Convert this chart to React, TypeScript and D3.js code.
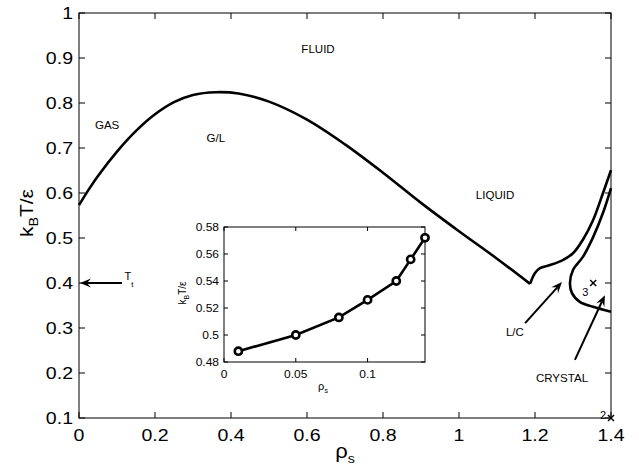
import React from 'react';
import * as d3 from 'd3';

// main phase boundary: gas/liquid coexistence up to the kink
const glRho = [0, 0.025, 0.05, 0.1, 0.15, 0.2, 0.25, 0.3, 0.36, 0.42, 0.5, 0.6, 0.7, 0.8, 0.9, 1.0, 1.1, 1.187];
const glT = [0.573, 0.607, 0.638, 0.692, 0.738, 0.775, 0.802, 0.818, 0.824, 0.821, 0.803, 0.763, 0.708, 0.645, 0.578, 0.515, 0.454, 0.398];

// liquid / crystal upper branch from the kink
const lcRho = [1.187, 1.2, 1.213, 1.24, 1.273, 1.3, 1.326, 1.353, 1.379, 1.4];
const lcT = [0.398, 0.422, 0.433, 0.44, 0.451, 0.466, 0.496, 0.54, 0.6, 0.651];

// crystal boundary (not a function of rho)
const crRho = [1.4, 1.379, 1.353, 1.326, 1.3, 1.292, 1.297, 1.318, 1.353, 1.4];
const crT = [0.611, 0.556, 0.502, 0.458, 0.429, 0.4, 0.378, 0.358, 0.347, 0.336];

// inset data
const insetRho = [0.01, 0.05, 0.08, 0.1, 0.12, 0.13, 0.14];
const insetT = [0.488, 0.5, 0.513, 0.526, 0.54, 0.556, 0.572];

const xTicks = [0, 0.2, 0.4, 0.6, 0.8, 1, 1.2, 1.4];
const yTicks = [0.1, 0.2, 0.3, 0.4, 0.5, 0.6, 0.7, 0.8, 0.9, 1];
const insetXTicks = [0, 0.05, 0.1];
const insetYTicks = [0.48, 0.5, 0.52, 0.54, 0.56, 0.58];

const regionNames = ['GAS', 'G/L', 'FLUID', 'LIQUID', 'L/C', 'CRYSTAL'];
const regionRho = [0.074, 0.36, 0.629, 1.095, 1.147, 1.271];
const regionT = [0.751, 0.722, 0.92, 0.596, 0.291, 0.189];

const FONT = 'Liberation Sans, Arial, Helvetica, sans-serif';

function fmt(v: number) {
  return String(+v.toFixed(2));
}

function Stretch({ x, y, size, anchor = 'start', sx = 1.15, children, baseline }: any) {
  return (
    <text
      transform={`translate(${x},${y}) scale(${sx},1)`}
      fontSize={size}
      fontFamily={FONT}
      textAnchor={anchor}
      dy={baseline === 'middle' ? '0.36em' : 0}
      fill="#000"
    >
      {children}
    </text>
  );
}

function Arrow({ x1, y1, x2, y2 }: any) {
  const a = Math.atan2(y2 - y1, x2 - x1);
  const L = 11, w = 4.5, back = 7;
  const p = (d: number, s: number) => [x2 - d * Math.cos(a) - s * Math.sin(a), y2 - d * Math.sin(a) + s * Math.cos(a)];
  const h = [p(0, 0), p(L, w), p(back, 0), p(L, -w)];
  return (
    <g>
      <line x1={x1} y1={y1} x2={p(back, 0)[0]} y2={p(back, 0)[1]} stroke="#000" strokeWidth={2} />
      <path d={'M' + h.map(q => q.join(',')).join('L') + 'Z'} fill="#000" />
    </g>
  );
}

export default function App() {
  const W = 639, H = 466;
  const x = d3.scaleLinear().domain([0, 1.4]).range([79, 611]);
  const y = d3.scaleLinear().domain([0.1, 1]).range([418, 13]);
  const ix = d3.scaleLinear().domain([0, 0.14]).range([224, 425]);
  const iy = d3.scaleLinear().domain([0.48, 0.58]).range([362, 227]);

  const smooth = d3.line<any>().x(d => x(d[0])).y(d => y(d[1])).curve(d3.curveCatmullRom.alpha(0.5));
  const straight = d3.line<any>().x(d => ix(d[0])).y(d => iy(d[1]));

  const gl = glRho.map((r, i) => [r, glT[i]]);
  const lc = lcRho.map((r, i) => [r, lcT[i]]);
  const cr = crRho.map((r, i) => [r, crT[i]]);
  const ins = insetRho.map((r, i) => [r, insetT[i]]);

  const [x0, x1] = x.range();
  const [y0, y1] = y.range();
  const [ix0, ix1] = ix.range();
  const [iy0, iy1] = iy.range();
  const tk = 6, itk = 4;

  const cross = (cx: number, cy: number) => (
    <g stroke="#000" strokeWidth={1.5}>
      <line x1={cx - 3} y1={cy - 3} x2={cx + 3} y2={cy + 3} />
      <line x1={cx - 3} y1={cy + 3} x2={cx + 3} y2={cy - 3} />
    </g>
  );

  return (
    <svg width={W} height={H} style={{ position: 'absolute', left: 0, top: 0, background: '#fff' }}>
      <rect width={W} height={H} fill="#fff" />
      {/* main box and ticks */}
      <rect x={x0} y={y1} width={x1 - x0} height={y0 - y1} fill="none" stroke="#000" strokeWidth={1} />
      {xTicks.map(t => (
        <g key={'xt' + t}>
          <line x1={x(t)} x2={x(t)} y1={y0} y2={y0 - tk} stroke="#000" />
          <line x1={x(t)} x2={x(t)} y1={y1} y2={y1 + tk} stroke="#000" />
          <Stretch x={x(t)} y={441} size={17} anchor="middle">{fmt(t)}</Stretch>
        </g>
      ))}
      {yTicks.map(t => (
        <g key={'yt' + t}>
          <line x1={x0} x2={x0 + tk} y1={y(t)} y2={y(t)} stroke="#000" />
          <line x1={x1} x2={x1 - tk} y1={y(t)} y2={y(t)} stroke="#000" />
          <Stretch x={73} y={y(t)} size={17} anchor="end" baseline="middle">{fmt(t)}</Stretch>
        </g>
      ))}
      {/* axis labels */}
      <text transform={`translate(33,213) rotate(-90) scale(1.1,1)`} fontFamily={FONT} fontSize={19} textAnchor="middle">
        k<tspan fontSize={13} dy={5}>B</tspan><tspan dy={-5}>T/ε</tspan>
      </text>
      <text transform={`translate(345,458) scale(1.1,1)`} fontFamily={FONT} fontSize={20} textAnchor="middle">
        ρ<tspan fontSize={13} dy={5}>s</tspan>
      </text>

      {/* curves */}
      <path d={smooth(gl) as string} fill="none" stroke="#000" strokeWidth={2.6} />
      <path d={smooth(lc) as string} fill="none" stroke="#000" strokeWidth={2.6} />
      <path d={smooth(cr) as string} fill="none" stroke="#000" strokeWidth={2.6} />

      {/* region labels */}
      {regionNames.map((n, i) => (
        <Stretch key={n} x={x(regionRho[i])} y={y(regionT[i])} size={11} anchor="middle" baseline="middle" sx={1.05}>{n}</Stretch>
      ))}

      {/* T_t marker */}
      <Arrow x1={x(0.113)} y1={y(0.4)} x2={x(0) + 1} y2={y(0.4)} />
      <text x={x(0.12)} y={y(0.4) - 3} fontFamily={FONT} fontSize={11}>
        T<tspan fontSize={8} dy={7}>t</tspan>
      </text>
      <Arrow x1={x(1.174)} y1={y(0.311)} x2={x(1.271)} y2={y(0.402)} />
      <Arrow x1={x(1.305)} y1={y(0.229)} x2={x(1.384)} y2={y(0.373)} />

      {/* triple points */}
      {cross(x(1.353), y(0.4))}
      <text x={x(1.353) - 11} y={y(0.4) + 13} fontFamily={FONT} fontSize={11}>3</text>
      {cross(x(1.4), y(0.1))}
      <text x={x(1.4) - 11} y={y(0.1) + 1} fontFamily={FONT} fontSize={11}>2</text>

      {/* inset */}
      <rect x={ix0} y={iy1} width={ix1 - ix0} height={iy0 - iy1} fill="#fff" stroke="#000" strokeWidth={1} />
      {insetXTicks.map(t => (
        <g key={'ixt' + t}>
          <line x1={ix(t)} x2={ix(t)} y1={iy0} y2={iy0 - itk} stroke="#000" />
          <line x1={ix(t)} x2={ix(t)} y1={iy1} y2={iy1 + itk} stroke="#000" />
          <Stretch x={ix(t)} y={378} size={10} anchor="middle" sx={1.2}>{fmt(t)}</Stretch>
        </g>
      ))}
      {insetYTicks.map(t => (
        <g key={'iyt' + t}>
          <line x1={ix0} x2={ix0 + itk} y1={iy(t)} y2={iy(t)} stroke="#000" />
          <line x1={ix1} x2={ix1 - itk} y1={iy(t)} y2={iy(t)} stroke="#000" />
          <Stretch x={219} y={iy(t)} size={10} anchor="end" baseline="middle" sx={1.2}>{fmt(t)}</Stretch>
        </g>
      ))}
      <text transform={`translate(186,293) rotate(-90)`} fontFamily={FONT} fontSize={10} textAnchor="middle">
        k<tspan fontSize={7} dy={3}>B</tspan><tspan dy={-3}>T/ε</tspan>
      </text>
      <text x={323} y={390} fontFamily={FONT} fontSize={11} textAnchor="middle">
        ρ<tspan fontSize={7} dy={3}>s</tspan>
      </text>
      <path d={straight(ins) as string} fill="none" stroke="#000" strokeWidth={2.6} />
      {ins.map((d, i) => (
        <circle key={i} cx={ix(d[0])} cy={iy(d[1])} r={3.6} fill="#fff" stroke="#000" strokeWidth={2.6} />
      ))}
    </svg>
  );
}
